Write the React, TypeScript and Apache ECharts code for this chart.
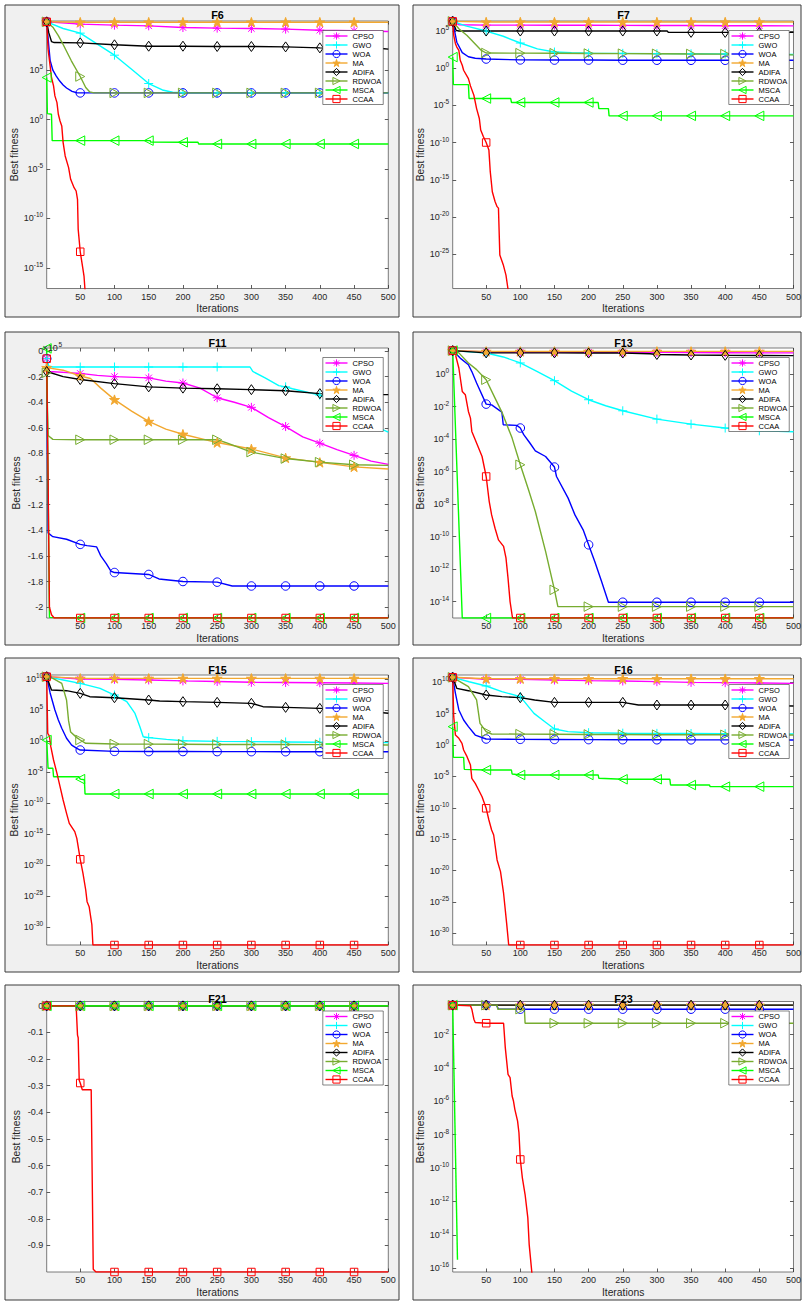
import React, { useEffect, useRef } from "react";
import * as echarts from "echarts";

type Pt = [number, number];

const ALGOS = ["CPSO", "GWO", "WOA", "MA", "ADIFA", "RDWOA", "MSCA", "CCAA"];
const MARK_ITERS = [1, 50, 100, 150, 200, 250, 300, 350, 400, 450];
const X_TICKS = [50, 100, 150, 200, 250, 300, 350, 400, 450, 500];

// y tick values (log panels: exponent of 10)
const F6_TICKS = [-15, -10, -5, 0, 5];
const F7_TICKS = [-25, -20, -15, -10, -5, 0, 5];
const F11_TICKS = [-200000, -180000, -160000, -140000, -120000, -100000, -80000, -60000, -40000, -20000, 0];
const F13_TICKS = [-14, -12, -10, -8, -6, -4, -2, 0];
const F15_TICKS = [-30, -25, -20, -15, -10, -5, 0, 5, 10];
const F16_TICKS = [-30, -25, -20, -15, -10, -5, 0, 5, 10];
const F21_TICKS = [-0.9, -0.8, -0.7, -0.6, -0.5, -0.4, -0.3, -0.2, -0.1, 0];
const F23_TICKS = [-16, -14, -12, -10, -8, -6, -4, -2];

// ---- F6 : log10(best fitness) ----
const F6_CPSO: Pt[] = [[1,9.9],[50,9.66],[100,9.56],[150,9.49],[200,9.32],[250,9.26],[300,9.22],[350,9.16],[400,9.05],[450,8.99],[500,8.92]];
const F6_GWO: Pt[] = [[1,9.9],[25,9.22],[50,8.75],[75,7.64],[100,6.52],[125,5.1],[150,3.65],[170,3.0],[185,2.77],[200,2.72],[250,2.7],[300,2.7],[350,2.7],[400,2.7],[450,2.7],[500,2.7]];
const F6_WOA: Pt[] = [[1,9.9],[4,7.5],[6,6.0],[10,5.0],[15,4.4],[20,3.9],[25,3.5],[30,3.2],[38,2.85],[45,2.72],[50,2.7],[100,2.7],[150,2.7],[200,2.7],[250,2.7],[300,2.7],[350,2.7],[400,2.7],[450,2.7],[500,2.7]];
const F6_MA: Pt[] = [[1,9.9],[50,9.86],[100,9.86],[150,9.86],[200,9.86],[250,9.86],[300,9.86],[350,9.86],[400,9.86],[450,9.86],[500,9.86]];
const F6_ADIFA: Pt[] = [[1,9.9],[4,8.8],[8,7.9],[12,7.8],[50,7.77],[100,7.57],[150,7.43],[200,7.43],[250,7.4],[300,7.4],[350,7.36],[400,7.26],[450,7.22],[490,7.2],[500,7.13]];
const F6_RDWOA: Pt[] = [[1,9.9],[10,9.35],[18,8.5],[25,7.6],[37,5.95],[50,4.36],[58,3.25],[64,2.8],[70,2.7],[100,2.7],[150,2.7],[200,2.7],[250,2.7],[300,2.7],[350,2.7],[400,2.7],[450,2.7],[500,2.7]];
const F6_MSCA: Pt[] = [[1,4.26],[2,0.6],[8,0.54],[9,-2.13],[50,-2.13],[100,-2.13],[150,-2.13],[152,-2.13],[153,-2.28],[200,-2.3],[222,-2.3],[223,-2.47],[250,-2.47],[300,-2.47],[350,-2.47],[400,-2.47],[450,-2.47],[500,-2.47]];
const F6_CCAA: Pt[] = [[1,9.9],[3,7.13],[6,5.44],[8,4.26],[11,3.41],[13,2.4],[16,1.72],[18,0.54],[20.5,-0.14],[23,-0.64],[25,-2.33],[28,-3.68],[33,-4.86],[36,-6.05],[41,-6.89],[44,-7.23],[46,-8.07],[47,-11.11],[50,-13.38],[54,-15.17],[55.5,-15.84],[57,-17.3]];

// ---- F7 : log10(best fitness) ----
const F7_CPSO: Pt[] = [[1,6.3],[10,5.85],[50,5.8],[100,5.8],[150,5.78],[200,5.77],[250,5.76],[300,5.75],[350,5.74],[400,5.72],[450,5.71],[500,5.7]];
const F7_GWO: Pt[] = [[1,6.3],[20,5.7],[50,5.0],[75,4.3],[100,3.39],[125,2.6],[150,2.18],[175,2.08],[200,2.03],[250,2.0],[300,1.96],[350,1.94],[400,1.92],[450,1.9],[500,1.85]];
const F7_WOA: Pt[] = [[1,6.3],[7,3.5],[15,2.1],[24,1.55],[34,1.35],[50,1.24],[100,1.12],[150,1.1],[200,1.1],[250,1.08],[300,1.08],[350,1.07],[400,1.07],[450,1.07],[500,1.07]];
const F7_MA: Pt[] = [[1,6.3],[50,6.21],[100,6.21],[150,6.21],[200,6.21],[250,6.21],[300,6.21],[350,6.21],[400,6.21],[450,6.21],[500,6.21]];
const F7_ADIFA: Pt[] = [[1,6.3],[6,5.1],[10,5.0],[50,5.0],[100,5.0],[150,5.0],[200,5.0],[250,5.0],[300,5.0],[315,5.0],[317,4.82],[350,4.82],[400,4.82],[450,4.82],[500,4.82]];
const F7_RDWOA: Pt[] = [[1,6.3],[10,5.3],[22,4.4],[43,2.4],[50,2.05],[100,2.03],[150,2.02],[200,1.98],[250,1.96],[300,1.94],[350,1.92],[400,1.9],[450,1.85],[500,1.8]];
const F7_MSCA: Pt[] = [[1,1.5],[2,-2.2],[24,-2.2],[25,-4.07],[50,-4.07],[86,-4.07],[87,-4.6],[100,-4.6],[150,-4.6],[200,-4.6],[214,-4.6],[215,-5.42],[229,-5.42],[230,-6.4],[250,-6.4],[300,-6.4],[350,-6.4],[400,-6.4],[450,-6.4],[500,-6.4]];
const F7_CCAA: Pt[] = [[1,6.3],[2.5,4.42],[5,3.3],[7,2.85],[10,2.4],[12,1.07],[15,0.4],[17,-0.27],[24,-1.4],[27,-2.37],[32,-3.63],[36,-5.42],[40,-6.76],[42,-8.3],[46,-9.2],[50,-9.98],[54,-11.0],[56,-13.9],[59,-16.6],[63,-17.9],[66,-18.6],[68,-18.8],[70,-25.1],[75,-26.4],[79,-27.8],[82,-29.7]];

// ---- F11 : best fitness ----
const F11_CPSO: Pt[] = [[1,-6000],[5,-16000],[50,-17500],[75,-19000],[100,-20000],[150,-21000],[175,-23500],[200,-25000],[225,-29000],[250,-36500],[275,-40000],[300,-44000],[325,-52000],[350,-59000],[375,-67000],[400,-72000],[425,-77000],[450,-81500],[475,-86000],[500,-88500]];
const F11_GWO: Pt[] = [[1,-6000],[4,-11700],[10,-12500],[50,-12500],[100,-12500],[150,-12500],[200,-12500],[250,-12500],[298,-12500],[302,-16000],[320,-21000],[340,-27000],[350,-28000],[360,-29500],[380,-32000],[400,-34500],[450,-47000],[490,-61000],[500,-63300]];
const F11_WOA: Pt[] = [[1,-6000],[3,-142000],[10,-145000],[30,-147000],[50,-151000],[60,-152000],[74,-153000],[80,-160000],[88,-166000],[95,-172000],[100,-173000],[150,-174500],[165,-178000],[200,-180000],[250,-180500],[272,-183500],[300,-183500],[350,-183500],[400,-183500],[450,-183500],[500,-183500]];
const F11_MA: Pt[] = [[1,-13000],[25,-15000],[50,-19500],[65,-21500],[80,-29000],[100,-38000],[125,-47000],[150,-55000],[175,-61000],[200,-65000],[250,-71500],[300,-76500],[350,-83500],[400,-87000],[450,-90500],[500,-92200]];
const F11_ADIFA: Pt[] = [[1,-16000],[25,-20000],[50,-22300],[100,-25500],[150,-28000],[200,-29000],[250,-29500],[300,-30200],[350,-31000],[400,-33300],[430,-34000],[450,-34100],[500,-34100]];
const F11_RDWOA: Pt[] = [[1,-17000],[3,-66000],[10,-69000],[50,-69300],[100,-69300],[150,-69300],[200,-69300],[250,-69300],[265,-72000],[300,-79000],[350,-84000],[400,-86800],[450,-88800],[500,-89300]];
const F11_MSCA: Pt[] = [[1,2000],[5,-208000],[50,-208500],[100,-208500],[150,-208500],[200,-208500],[250,-208500],[300,-208500],[350,-208500],[400,-208500],[450,-208500],[500,-208500]];
const F11_CCAA: Pt[] = [[1,-6000],[3,-97000],[5,-200000],[8,-206000],[12,-208500],[50,-208500],[100,-208500],[150,-208500],[200,-208500],[250,-208500],[300,-208500],[350,-208500],[400,-208500],[450,-208500],[500,-208500]];

// ---- F13 : log10(best fitness) ----
const F13_CPSO: Pt[] = [[1,1.44],[50,1.36],[100,1.35],[150,1.35],[200,1.34],[250,1.33],[300,1.33],[350,1.32],[400,1.31],[450,1.3],[500,1.3]];
const F13_GWO: Pt[] = [[1,1.44],[50,1.29],[75,1.05],[100,0.68],[125,0.15],[150,-0.41],[175,-1.05],[200,-1.58],[225,-1.95],[250,-2.26],[300,-2.77],[350,-3.08],[400,-3.32],[450,-3.49],[500,-3.55]];
const F13_WOA: Pt[] = [[1,1.44],[12,0.98],[24,0.57],[29,0.15],[36,-0.55],[50,-1.85],[58,-1.9],[73,-2.34],[75,-3.12],[95,-3.16],[100,-3.32],[105,-3.73],[114,-4.24],[122,-4.72],[137,-5.07],[150,-5.72],[153,-6.3],[170,-7.63],[180,-8.66],[192,-9.58],[200,-10.5],[209,-11.53],[219,-12.76],[229,-14.03],[250,-14.03],[300,-14.03],[350,-14.03],[400,-14.03],[450,-14.03],[500,-14.03]];
const F13_MA: Pt[] = [[1,1.44],[50,1.39],[100,1.39],[150,1.39],[200,1.39],[250,1.39],[300,1.39],[350,1.39],[400,1.39],[450,1.39],[500,1.39]];
const F13_ADIFA: Pt[] = [[1,1.44],[50,1.3],[100,1.3],[150,1.3],[200,1.29],[250,1.29],[290,1.25],[300,1.2],[350,1.17],[400,1.15],[450,1.14],[500,1.13]];
const F13_RDWOA: Pt[] = [[1,1.44],[10,1.3],[24,0.68],[36,0.27],[50,-0.35],[63,-1.48],[73,-2.34],[88,-3.94],[100,-5.58],[112,-7.12],[122,-8.45],[137,-10.9],[150,-13.27],[155,-14.3],[200,-14.3],[250,-14.3],[300,-14.3],[350,-14.3],[400,-14.3],[450,-14.3],[500,-14.3]];
const F13_MSCA: Pt[] = [[1,1.44],[15,-15.0],[50,-15.0],[100,-15.0],[150,-15.0],[200,-15.0],[250,-15.0],[300,-15.0],[350,-15.0],[400,-15.0],[450,-15.0],[500,-15.0]];
const F13_CCAA: Pt[] = [[1,1.44],[5,1.19],[10,0.37],[15,-1.07],[19.5,-1.27],[24,-2.3],[27,-2.71],[29,-3.53],[34,-4.04],[44,-5.07],[50,-6.3],[54.5,-7.84],[58,-8.66],[63,-9.48],[68,-10.2],[75.5,-10.6],[79,-11.3],[82,-12.55],[85,-13.99],[88.6,-15.0],[100,-15.0],[150,-15.0],[200,-15.0],[250,-15.0],[300,-15.0],[350,-15.0],[400,-15.0],[450,-15.0],[500,-15.0]];

// ---- F15 : log10(best fitness) ----
const F15_CPSO: Pt[] = [[1,10.43],[50,10.05],[100,10.0],[150,9.9],[200,9.75],[250,9.65],[300,9.52],[350,9.5],[400,9.45],[450,9.4],[500,9.35]];
const F15_GWO: Pt[] = [[1,10.43],[25,9.9],[50,9.35],[79,8.55],[100,7.47],[118,6.4],[130,4.5],[137,2.4],[142,0.75],[150,0.6],[176,0.32],[200,0.1],[250,0.0],[300,-0.05],[350,-0.1],[400,-0.15],[450,-0.18],[500,-0.2]];
const F15_WOA: Pt[] = [[1,10.43],[6,7.8],[13,5.05],[18,3.44],[23,2.1],[30,0.5],[37.5,-0.6],[45,-1.14],[50,-1.4],[100,-1.62],[150,-1.65],[200,-1.65],[250,-1.66],[300,-1.66],[350,-1.67],[400,-1.67],[450,-1.67],[500,-1.67]];
const F15_MA: Pt[] = [[1,10.43],[50,10.16],[100,10.16],[150,10.16],[200,10.16],[250,10.16],[300,10.16],[350,10.16],[400,10.16],[450,10.16],[500,10.16]];
const F15_ADIFA: Pt[] = [[1,10.43],[8,8.28],[30,8.17],[50,7.74],[64,7.2],[100,7.04],[150,6.67],[166,6.5],[200,6.4],[250,6.29],[300,6.13],[317,5.59],[350,5.48],[400,5.32],[450,5.05],[500,4.52]];
const F15_RDWOA: Pt[] = [[1,10.43],[10,10.16],[23,9.35],[30,6.67],[33,3.3],[36,1.5],[45,0.6],[50,0.22],[58,-0.32],[100,-0.43],[150,-0.45],[200,-0.47],[250,-0.5],[300,-0.5],[350,-0.52],[400,-0.53],[450,-0.55],[500,-0.59]];
const F15_MSCA: Pt[] = [[1,0.2],[3,-4.35],[10,-4.35],[11,-5.7],[48,-5.7],[50,-6.1],[56,-6.2],[57,-8.49],[100,-8.49],[150,-8.49],[200,-8.49],[250,-8.49],[300,-8.49],[350,-8.49],[400,-8.49],[450,-8.49],[500,-8.49]];
const F15_CCAA: Pt[] = [[1,10.43],[2.5,1.29],[5,0.86],[7,-0.86],[11,-3.01],[16,-5.16],[20.5,-7.31],[25,-9.46],[30,-11.61],[34,-13.23],[42,-14.57],[45,-15.65],[50,-19.03],[54,-21.29],[58,-23.98],[60,-25.86],[63,-26.67],[67,-29.62],[68.5,-32.85],[100,-32.85],[150,-32.85],[200,-32.85],[250,-32.85],[300,-32.85],[350,-32.85],[400,-32.85],[450,-32.85],[500,-32.85]];

// ---- F16 : log10(best fitness) ----
const F16_CPSO: Pt[] = [[1,10.8],[50,10.48],[100,10.48],[150,10.37],[200,10.27],[250,10.21],[300,10.11],[350,10.0],[400,9.95],[450,9.9],[500,9.84]];
const F16_GWO: Pt[] = [[1,10.8],[25,10.1],[50,9.42],[73,8.51],[100,7.72],[120,5.06],[136,3.73],[150,2.57],[170,2.14],[200,1.98],[250,1.9],[300,1.87],[350,1.85],[400,1.82],[450,1.8],[500,1.77]];
const F16_WOA: Pt[] = [[1,10.8],[5,8.25],[10,5.6],[17,4.0],[24,2.94],[34,1.6],[50,0.97],[100,0.92],[150,0.9],[200,0.88],[250,0.86],[300,0.85],[350,0.84],[400,0.83],[450,0.82],[500,0.81]];
const F16_MA: Pt[] = [[1,10.8],[50,10.58],[100,10.58],[150,10.58],[200,10.58],[250,10.58],[300,10.58],[350,10.58],[400,10.58],[450,10.58],[500,10.58]];
const F16_ADIFA: Pt[] = [[1,10.8],[7,9.04],[24,8.67],[50,7.98],[73,7.72],[100,7.56],[121,7.19],[150,6.81],[200,6.81],[250,6.81],[273,6.39],[300,6.39],[350,6.39],[400,6.39],[450,6.3],[500,6.23]];
const F16_RDWOA: Pt[] = [[1,10.8],[24,9.31],[36,7.19],[41,3.47],[50,2.14],[58,1.77],[100,1.75],[150,1.72],[200,1.7],[250,1.68],[300,1.66],[350,1.65],[400,1.64],[450,1.62],[500,1.61]];
const F16_MSCA: Pt[] = [[1,2.94],[2,-1.95],[17,-1.95],[18,-3.86],[50,-3.97],[87,-3.97],[88,-4.6],[100,-4.76],[150,-4.76],[200,-4.76],[214,-4.76],[215,-5.29],[250,-5.45],[300,-5.45],[319,-5.45],[320,-6.36],[350,-6.36],[377,-6.36],[378,-6.62],[400,-6.62],[450,-6.62],[500,-6.62]];
const F16_CCAA: Pt[] = [[1,10.8],[2.5,4.53],[5,1.6],[10,1.08],[14.6,0.28],[17,-0.78],[22,-1.84],[27,-3.17],[29,-5.29],[34,-6.09],[39,-7.15],[44,-8.22],[50,-10.07],[54,-11.93],[58,-13.53],[61,-14.32],[66,-18.3],[71,-20.16],[75.5,-23.6],[80,-28.4],[83,-31.85],[100,-31.85],[150,-31.85],[200,-31.85],[250,-31.85],[300,-31.85],[350,-31.85],[400,-31.85],[450,-31.85],[500,-31.85]];

// ---- F21 : best fitness ----
const F21_ZERO: Pt[] = [[1,0],[50,0],[100,0],[150,0],[200,0],[250,0],[300,0],[350,0],[400,0],[450,0],[500,0]];
const F21_CCAA: Pt[] = [[1,0],[44,0],[46,-0.11],[47,-0.12],[48.5,-0.28],[50,-0.29],[53,-0.315],[66,-0.315],[69,-0.99],[73,-1.0],[100,-1.0],[150,-1.0],[200,-1.0],[250,-1.0],[300,-1.0],[350,-1.0],[400,-1.0],[450,-1.0],[500,-1.0]];

// ---- F23 : log10(best fitness) ----
const F23_TOP: Pt[] = [[1,-0.24],[50,-0.24],[100,-0.24],[150,-0.24],[200,-0.24],[250,-0.24],[300,-0.24],[350,-0.24],[400,-0.24],[450,-0.24],[500,-0.24]];
const F23_WOA: Pt[] = [[1,-0.24],[50,-0.24],[65,-0.24],[68,-0.48],[100,-0.48],[150,-0.48],[200,-0.48],[250,-0.48],[300,-0.48],[350,-0.48],[400,-0.48],[450,-0.48],[500,-0.48]];
const F23_RDWOA: Pt[] = [[1,-0.24],[50,-0.24],[66,-0.24],[67,-0.48],[100,-0.48],[106,-0.48],[107,-1.32],[150,-1.32],[200,-1.32],[250,-1.32],[300,-1.32],[350,-1.32],[400,-1.32],[450,-1.32],[500,-1.32]];
const F23_MSCA: Pt[] = [[1,-0.24],[8,-15.48]];
const F23_CCAA: Pt[] = [[1,-0.24],[27,-0.28],[29,-0.48],[32,-1.08],[34,-1.28],[50,-1.32],[75.5,-1.32],[78,-2.78],[82,-4.38],[85,-4.58],[88,-5.68],[90,-5.98],[92,-6.48],[96,-7.18],[98,-7.88],[100,-9.48],[103,-10.58],[107,-11.58],[111,-12.98],[113,-14.58],[117,-16.3]];

const FONT = '"Liberation Sans", Arial, Helvetica, sans-serif';

type Panel = { title: string; kind: "log" | "lin" | "lin5"; yMin: number; yMax: number; ticks: number[]; data: Pt[][]; col: number; row: number };

const PANELS: Panel[] = [
  { title: "F6", kind: "log", yMin: -17.1, yMax: 9.98, ticks: F6_TICKS, data: [F6_CPSO, F6_GWO, F6_WOA, F6_MA, F6_ADIFA, F6_RDWOA, F6_MSCA, F6_CCAA], col: 0, row: 0 },
  { title: "F7", kind: "log", yMin: -29.6, yMax: 6.35, ticks: F7_TICKS, data: [F7_CPSO, F7_GWO, F7_WOA, F7_MA, F7_ADIFA, F7_RDWOA, F7_MSCA, F7_CCAA], col: 1, row: 0 },
  { title: "F11", kind: "lin5", yMin: -208500, yMax: 2340, ticks: F11_TICKS, data: [F11_CPSO, F11_GWO, F11_WOA, F11_MA, F11_ADIFA, F11_RDWOA, F11_MSCA, F11_CCAA], col: 0, row: 1 },
  { title: "F13", kind: "log", yMin: -15.0, yMax: 1.6, ticks: F13_TICKS, data: [F13_CPSO, F13_GWO, F13_WOA, F13_MA, F13_ADIFA, F13_RDWOA, F13_MSCA, F13_CCAA], col: 1, row: 1 },
  { title: "F15", kind: "log", yMin: -32.85, yMax: 10.7, ticks: F15_TICKS, data: [F15_CPSO, F15_GWO, F15_WOA, F15_MA, F15_ADIFA, F15_RDWOA, F15_MSCA, F15_CCAA], col: 0, row: 2 },
  { title: "F16", kind: "log", yMin: -31.85, yMax: 11.17, ticks: F16_TICKS, data: [F16_CPSO, F16_GWO, F16_WOA, F16_MA, F16_ADIFA, F16_RDWOA, F16_MSCA, F16_CCAA], col: 1, row: 2 },
  { title: "F21", kind: "lin", yMin: -1.0, yMax: 0.0163, ticks: F21_TICKS, data: [F21_ZERO, F21_ZERO, F21_ZERO, F21_ZERO, F21_ZERO, F21_ZERO, F21_ZERO, F21_CCAA], col: 0, row: 3 },
  { title: "F23", kind: "log", yMin: -16.22, yMax: -0.02, ticks: F23_TICKS, data: [F23_TOP, F23_TOP, F23_WOA, F23_TOP, F23_TOP, F23_RDWOA, F23_MSCA, F23_CCAA], col: 1, row: 3 },
];

const COLS = [
  { boxX: 5, boxW: 394, plotX: 46.7, plotW: 341.6 },
  { boxX: 413, boxW: 388, plotX: 452.7, plotW: 341.6 },
];
const ROWS = [
  { boxY: 5, boxH: 312, plotY: 21, plotH: 267.5, titleY: 15 },
  { boxY: 332, boxH: 313, plotY: 348, plotH: 270, titleY: 342.5 },
  { boxY: 658, boxH: 314, plotY: 675, plotH: 270, titleY: 669.5 },
  { boxY: 985, boxH: 315, plotY: 1001.5, plotH: 270.5, titleY: 998.5 },
];

const STAR = "path://M0,-10L2.245,-3.09L9.51,-3.09L3.63,1.18L5.88,8.09L0,3.82L-5.88,8.09L-3.63,1.18L-9.51,-3.09L-2.245,-3.09Z";
const CLEAR = "rgba(0,0,0,0)";
const STYLE: Record<string, { color: string; fill: string; symbol: string; size: number }> = {
  CPSO: { color: "#FF00FF", fill: CLEAR, symbol: "path://M0,-5L0,5M-5,0L5,0M-3.6,-3.6L3.6,3.6M-3.6,3.6L3.6,-3.6", size: 9 },
  GWO: { color: "#00FFFF", fill: CLEAR, symbol: "path://M0,-5L0,5M-5,0L5,0", size: 9 },
  WOA: { color: "#0000FF", fill: CLEAR, symbol: "circle", size: 8.5 },
  MA: { color: "#F2A830", fill: "#F2A830", symbol: STAR, size: 10 },
  ADIFA: { color: "#000000", fill: CLEAR, symbol: "path://M0,-6L4.2,0L0,6L-4.2,0Z", size: 10 },
  RDWOA: { color: "#77AC30", fill: CLEAR, symbol: "path://M-4.5,-5L5,0L-4.5,5Z", size: 9.5 },
  MSCA: { color: "#00FF00", fill: CLEAR, symbol: "path://M4.5,-5L-5,0L4.5,5Z", size: 9.5 },
  CCAA: { color: "#FF0000", fill: CLEAR, symbol: "rect", size: 7.5 },
};

function buildOption() {
  const grid: any[] = [];
  const xAxis: any[] = [];
  const yAxis: any[] = [];
  const series: any[] = [];
  const legend: any[] = [];
  const graphic: any[] = [];
  const tickStyle = { show: true, inside: true, length: 3.5, lineStyle: { color: "#333", width: 0.8 } };
  const labelColor = "#262626";

  PANELS.forEach((p, i) => {
    const c = COLS[p.col];
    const r = ROWS[p.row];
    graphic.push({
      type: "rect", z: -10, silent: true,
      shape: { x: c.boxX, y: r.boxY, width: c.boxW, height: r.boxH },
      style: { fill: "#F0F0F0", stroke: "#3a3a3a", lineWidth: 1 },
    });
    graphic.push({
      type: "text", z: 50, silent: true, x: c.plotX + c.plotW / 2, y: r.titleY,
      style: { text: p.title, fontSize: 10.8, fontWeight: "bold", fontFamily: FONT, fill: "#000", align: "center", verticalAlign: "middle" },
    });
    grid.push({
      left: c.plotX, top: r.plotY, width: c.plotW, height: r.plotH,
      show: true, backgroundColor: "#FFFFFF", borderColor: "#5a5a5a", borderWidth: 0.8,
    });
    xAxis.push({
      type: "value", gridIndex: i, position: "bottom", min: 1, max: 500,
      axisLine: { show: false, onZero: false }, splitLine: { show: false },
      axisTick: { ...tickStyle, customValues: X_TICKS },
      axisLabel: { customValues: X_TICKS, fontSize: 9, color: labelColor, margin: 3.5, fontFamily: FONT },
      name: "Iterations", nameLocation: "middle", nameGap: 15,
      nameTextStyle: { fontSize: 10.3, color: labelColor, fontFamily: FONT },
    });
    xAxis.push({
      type: "value", gridIndex: i, position: "top", min: 1, max: 500,
      axisLine: { show: false, onZero: false }, splitLine: { show: false },
      axisTick: { ...tickStyle, customValues: X_TICKS },
      axisLabel: { show: false },
    });
    const formatter =
      p.kind === "log"
        ? (v: number) => "{b|10}{e|" + Math.round(v) + "}"
        : p.kind === "lin5"
        ? (v: number) => String(Math.round(v / 1e4) / 10)
        : (v: number) => String(Math.round(v * 10) / 10);
    yAxis.push({
      type: "value", gridIndex: i, position: "left", min: p.yMin, max: p.yMax,
      axisLine: { show: false, onZero: false }, splitLine: { show: false },
      axisTick: { ...tickStyle, customValues: p.ticks },
      axisLabel: {
        customValues: p.ticks, formatter, fontSize: 9, color: labelColor, margin: 3.5, fontFamily: FONT,
        rich: {
          b: { fontSize: 9, lineHeight: 14, color: labelColor, fontFamily: FONT },
          e: { fontSize: 6.5, lineHeight: 7, verticalAlign: "top", color: labelColor, fontFamily: FONT },
        },
      },
      name: "Best fitness", nameLocation: "middle", nameGap: 25, nameRotate: 90,
      nameTextStyle: { fontSize: 10.3, color: labelColor, fontFamily: FONT },
    });
    yAxis.push({
      type: "value", gridIndex: i, position: "right", min: p.yMin, max: p.yMax,
      axisLine: { show: false, onZero: false }, splitLine: { show: false },
      axisTick: { ...tickStyle, customValues: p.ticks },
      axisLabel: { show: false },
    });
    if (p.kind === "lin5") {
      graphic.push({
        type: "text", z: 50, silent: true, x: c.plotX - 4.2, y: r.plotY,
        style: { text: "×10", fontSize: 9, fontFamily: FONT, fill: labelColor, align: "left", verticalAlign: "middle" },
      });
      graphic.push({
        type: "text", z: 50, silent: true, x: c.plotX + 11.8, y: r.plotY - 3.5,
        style: { text: "5", fontSize: 6.5, fontFamily: FONT, fill: labelColor, align: "left", verticalAlign: "middle" },
      });
    }
    p.data.forEach((pts, k) => {
      const a = ALGOS[k];
      const s = STYLE[a];
      series.push({
        type: "line", name: a, xAxisIndex: 2 * i, yAxisIndex: 2 * i,
        data: pts.map(([x, y]) => (MARK_ITERS.includes(x) ? [x, y] : { value: [x, y], symbol: "none" })),
        symbol: s.symbol, symbolSize: s.size, symbolKeepAspect: true,
        showSymbol: true, showAllSymbol: true, clip: true, silent: true,
        lineStyle: { color: s.color, width: 1.4 },
        itemStyle: { color: s.fill, borderColor: s.color, borderWidth: 1 },
        emphasis: { disabled: true },
      });
    });
    legend.push({
      orient: "vertical", left: c.plotX + c.plotW - 65.5, top: r.plotY + 9.5,
      itemWidth: 22, itemHeight: 9, itemGap: 0, padding: [1, 2, 1, 2],
      backgroundColor: "#FFFFFF", borderColor: "#333", borderWidth: 0.6,
      selectedMode: false, z: 20,
      textStyle: { fontSize: 7.5, color: "#000", fontFamily: FONT, lineHeight: 9 },
      data: ALGOS.map((a) => ({
        name: a,
        itemStyle: { color: STYLE[a].fill, borderColor: STYLE[a].color, borderWidth: 1 },
        lineStyle: { color: STYLE[a].color, width: 1.4 },
      })),
    });
  });

  return {
    animation: false,
    backgroundColor: "#FFFFFF",
    textStyle: { fontFamily: FONT },
    grid, xAxis, yAxis, series, legend, graphic,
  };
}

export default function App() {
  const ref = useRef<HTMLDivElement>(null);
  useEffect(() => {
    if (!ref.current) return;
    const chart = echarts.init(ref.current, undefined, { renderer: "svg" });
    chart.setOption(buildOption() as any);
    return () => chart.dispose();
  }, []);
  return <div ref={ref} style={{ position: "absolute", left: 0, top: 0, width: 804, height: 1301 }} />;
}
